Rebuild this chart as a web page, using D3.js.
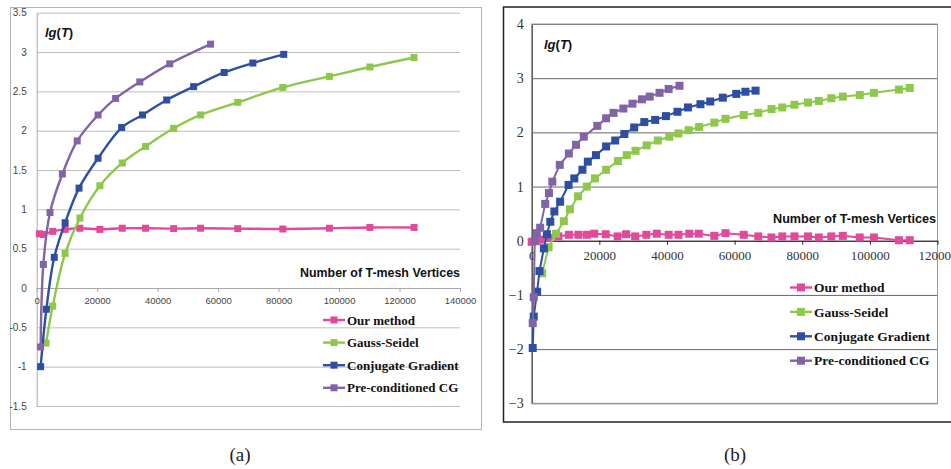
<!DOCTYPE html>
<html>
<head>
<meta charset="utf-8">
<script src="https://cdn.jsdelivr.net/npm/d3@7"></script>
<style>
  body { margin: 0; background: #fff; }
  svg { display: block; }
</style>
</head>
<body>
<div id="chart"></div>
<script>
// Series names and colours (shared by both panels)
const seriesNames = ["Our method", "Gauss-Seidel", "Conjugate Gradient", "Pre-conditioned CG"];
const seriesColors = ["#e2499b", "#8dc84a", "#2d4ea2", "#8164a8"];

// Panel (a): [vertices, lg(T)]
const aOurMethod = [[900, 0.69], [2200, 0.68], [5300, 0.72], [9400, 0.745], [14300, 0.76], [20900, 0.745],
  [28300, 0.76], [36000, 0.76], [45300, 0.755], [54200, 0.76], [66500, 0.755], [81400, 0.75],
  [96800, 0.76], [110200, 0.77], [124800, 0.77]];
const aGaussSeidel = [[3100, -0.70], [5300, -0.23], [9400, 0.44], [14300, 0.89], [20900, 1.30], [28300, 1.59],
  [36000, 1.80], [45300, 2.03], [54200, 2.20], [66500, 2.36], [81400, 2.55], [96800, 2.69],
  [110200, 2.81], [124800, 2.93]];
const aConjugate = [[1300, -1.0], [3200, -0.27], [5800, 0.39], [9400, 0.83], [14000, 1.27], [20300, 1.65],
  [28100, 2.04], [35000, 2.20], [43000, 2.39], [51900, 2.56], [62000, 2.74], [71500, 2.86], [81700, 2.97]];
const aPrecond = [[1300, -0.75], [2200, 0.30], [4400, 0.96], [8500, 1.45], [13400, 1.87], [20300, 2.20],
  [26100, 2.41], [34100, 2.62], [44000, 2.85], [57500, 3.10]];
const aXTicks = [0, 20000, 40000, 60000, 80000, 100000, 120000, 140000];
const aYTicks = [-1.5, -1, -0.5, 0, 0.5, 1, 1.5, 2, 2.5, 3, 3.5];

// Panel (b)
const bOurMethod = [[0, -0.02], [1200, -0.01], [2500, 0.02], [5000, 0.05], [7900, 0.08], [11000, 0.11],
  [13800, 0.11], [16300, 0.11], [18500, 0.13], [21900, 0.12], [25400, 0.08], [27900, 0.12], [30600, 0.08],
  [33900, 0.11], [37000, 0.13], [40500, 0.11], [43400, 0.11], [46600, 0.13], [49400, 0.13], [54000, 0.09],
  [57300, 0.14], [62700, 0.11], [67000, 0.08], [70900, 0.06], [74100, 0.08], [77700, 0.08], [81700, 0.08],
  [84900, 0.06], [88600, 0.08], [92000, 0.09], [97000, 0.06], [101200, 0.06], [108600, 0.01], [111800, 0.01]];
const bGaussSeidel = [[3100, -0.60], [5000, -0.12], [7200, 0.13], [9500, 0.36], [11300, 0.58], [13700, 0.82],
  [16300, 1.00], [18700, 1.15], [22000, 1.31], [25500, 1.47], [28100, 1.58], [30700, 1.66], [34000, 1.76],
  [37300, 1.85], [40700, 1.92], [43400, 1.98], [46400, 2.04], [49500, 2.10], [54000, 2.18], [57300, 2.25],
  [62700, 2.32], [67000, 2.36], [70900, 2.43], [74100, 2.46], [77700, 2.51], [81700, 2.55], [84900, 2.58],
  [88600, 2.63], [92000, 2.66], [97000, 2.69], [101200, 2.73], [108600, 2.79], [111800, 2.82]];
const bConjugate = [[300, -1.98], [600, -1.40], [1600, -0.94], [2300, -0.56], [3600, -0.14], [4500, 0.12],
  [5500, 0.35], [6700, 0.54], [8400, 0.72], [10900, 1.03], [12600, 1.15], [15000, 1.31], [16600, 1.46],
  [19000, 1.58], [22000, 1.74], [24700, 1.85], [27400, 1.97], [30300, 2.09], [33300, 2.19], [36500, 2.23],
  [39700, 2.30], [43100, 2.38], [46200, 2.46], [49900, 2.52], [52800, 2.57], [56500, 2.64], [60500, 2.71],
  [63200, 2.75], [66200, 2.77]];
const bPrecond = [[300, -1.52], [600, -1.04], [900, 0.0], [1500, 0.14], [2500, 0.24], [4000, 0.68],
  [5100, 0.88], [6100, 1.09], [8300, 1.40], [11000, 1.61], [13100, 1.77], [15400, 1.92], [19400, 2.12],
  [22000, 2.26], [24200, 2.36], [27100, 2.44], [29800, 2.53], [32600, 2.61], [34900, 2.66], [37800, 2.73],
  [40500, 2.80], [43700, 2.86]];
const bXTicks = [0, 20000, 40000, 60000, 80000, 100000, 120000];
const bYTicks = [-3, -2, -1, 0, 1, 2, 3, 4];

const svg = d3.select("#chart").append("svg")
  .attr("width", 951)
  .attr("height", 469);

// Frames
svg.append("rect")
  .attr("x", 10.5).attr("y", 7.5).attr("width", 471).attr("height", 422)
  .style("fill", "none").style("stroke", "#b4b4b4");
svg.append("rect")
  .attr("x", 503.5).attr("y", 7).attr("width", 470).attr("height", 415)
  .style("fill", "none").style("stroke", "#222").style("stroke-width", 1.5);

// Panel (a)
drawPanel({
  series: [aOurMethod, aGaussSeidel, aConjugate, aPrecond],
  x: d3.scaleLinear([0, 140000], [36.7, 460]),
  y: d3.scaleLinear([-1.5, 3.5], [406, 12.7]),
  xTicks: aXTicks, yTicks: aYTicks,
  tickFont: "'Liberation Sans', Arial, sans-serif", xTickSize: 9.5, yTickSize: 10,
  tickColor: "#444", gridColor: "#bcbcbc", axisColor: "#a8a8a8",
  xPad: 5, yPad: 10, minus: "-",
  box: false,
  curve: d3.curveCatmullRom.alpha(0.5), marker: 7, lineWidth: 2.4,
  lg: [45, 37, 13], xTitle: [460, 277, 160],
  legend: { x: 323, y0: 320, dy: 22.6, size: 13 },
  caption: ["(a)", 240, 461]
});

// Panel (b)
drawPanel({
  series: [bOurMethod, bGaussSeidel, bConjugate, bPrecond],
  x: d3.scaleLinear([0, 120000], [531.7, 937.5]),
  y: d3.scaleLinear([-3, 4], [403.3, 24]),
  xTicks: bXTicks, yTicks: bYTicks,
  tickFont: "'Liberation Serif', 'Times New Roman', serif", xTickSize: 13, yTickSize: 14,
  tickColor: "#333", gridColor: "#666", axisColor: "#222",
  xPad: 6, yPad: 8, minus: "\u2212",
  box: true,
  curve: d3.curveLinear, marker: 8, lineWidth: 2,
  lg: [544, 49, 13], xTitle: [936, 223, 163],
  legend: { x: 790, y0: 287.5, dy: 24.4, size: 13.5 },
  caption: ["(b)", 735, 461]
});

function drawPanel (o) {
  const g = svg.append("g");
  const [x0, x1] = o.x.range();
  const [yb, yt] = o.y.range();

  // Horizontal gridlines + y labels
  const yAxis = g.append("g")
    .attr("transform", `translate(${x0},0)`)
    .call(d3.axisLeft(o.y)
      .tickValues(o.yTicks)
      .tickSizeInner(-(x1 - x0))
      .tickSizeOuter(0)
      .tickPadding(o.yPad)
      .tickFormat(d => d < 0 ? o.minus + String(-d) : String(d)));
  yAxis.selectAll(".tick line").style("stroke", o.gridColor);
  yAxis.select(".domain").style("stroke", o.axisColor);
  yAxis.selectAll("text")
    .style("font-family", o.tickFont)
    .style("font-size", o.yTickSize + "px")
    .style("fill", o.tickColor);

  if (o.box) {
    g.append("rect")
      .attr("x", x0).attr("y", yt).attr("width", x1 - x0).attr("height", yb - yt)
      .style("fill", "none").style("stroke", "#999");
    yAxis.select(".domain").style("stroke-width", 1.2);
  }

  // x axis at y = 0
  const xAxis = g.append("g")
    .attr("transform", `translate(0,${o.y(0)})`)
    .call(d3.axisBottom(o.x)
      .tickValues(o.xTicks)
      .tickSizeInner(4)
      .tickSizeOuter(0)
      .tickPadding(o.xPad)
      .tickFormat(d3.format("d")));
  xAxis.selectAll("line, .domain").style("stroke", o.axisColor);
  xAxis.selectAll("text")
    .style("font-family", o.tickFont)
    .style("font-size", o.xTickSize + "px")
    .style("fill", o.tickColor);

  // Axis titles
  const lg = g.append("text")
    .attr("x", o.lg[0]).attr("y", o.lg[1])
    .style("font-family", "'Liberation Sans', Arial, sans-serif")
    .style("font-size", o.lg[2] + "px")
    .style("font-weight", "bold")
    .style("fill", "#111");
  lg.append("tspan").style("font-style", "italic").text("lg");
  lg.append("tspan").text("(");
  lg.append("tspan").style("font-style", "italic").text("T");
  lg.append("tspan").text(")");

  g.append("text")
    .attr("x", o.xTitle[0]).attr("y", o.xTitle[1])
    .attr("text-anchor", "end")
    .attr("textLength", o.xTitle[2])
    .attr("lengthAdjust", "spacingAndGlyphs")
    .style("font-family", "'Liberation Sans', Arial, sans-serif")
    .style("font-size", "12px")
    .style("font-weight", "bold")
    .style("fill", "#111")
    .text("Number of T-mesh Vertices");

  // Series
  const line = d3.line().x(d => o.x(d[0])).y(d => o.y(d[1])).curve(o.curve);
  const m = o.marker;
  o.series.forEach((data, i) => {
    const s = g.append("g");
    s.append("path")
      .attr("d", line(data))
      .style("fill", "none")
      .style("stroke", seriesColors[i])
      .style("stroke-width", o.lineWidth);
    s.selectAll("rect")
      .data(data)
      .join("rect")
      .attr("x", d => o.x(d[0]) - m / 2)
      .attr("y", d => o.y(d[1]) - m / 2)
      .attr("width", m)
      .attr("height", m)
      .style("fill", seriesColors[i]);
  });

  // Legend
  const L = o.legend;
  const rows = g.selectAll(".leg")
    .data(seriesNames)
    .join("g")
    .attr("transform", (d, i) => `translate(${L.x},${L.y0 + i * L.dy})`);
  rows.append("line")
    .attr("x1", 0).attr("x2", 22)
    .style("stroke", (d, i) => seriesColors[i])
    .style("stroke-width", 2.4);
  rows.append("rect")
    .attr("x", 11 - m / 2).attr("y", -m / 2)
    .attr("width", m).attr("height", m)
    .style("fill", (d, i) => seriesColors[i]);
  rows.append("text")
    .attr("x", 24).attr("dy", "0.35em")
    .style("font-family", "'Liberation Serif', 'Times New Roman', serif")
    .style("font-size", L.size + "px")
    .style("font-weight", "bold")
    .style("fill", "#111")
    .text(d => d);

  // Caption
  svg.append("text")
    .attr("x", o.caption[1]).attr("y", o.caption[2])
    .attr("text-anchor", "middle")
    .style("font-family", "'Liberation Serif', 'Times New Roman', serif")
    .style("font-size", "19px")
    .style("fill", "#222")
    .text(o.caption[0]);
}
</script>
</body>
</html>
